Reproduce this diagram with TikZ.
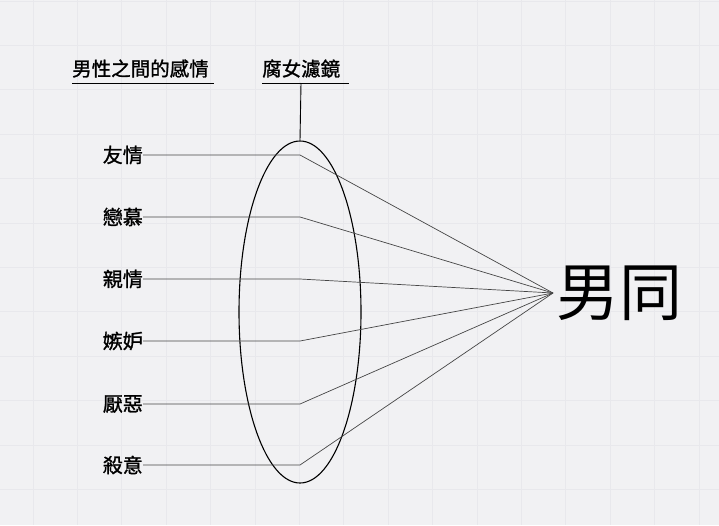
\documentclass[tikz,border=0pt]{standalone}
\usepackage{fontspec}
\newfontfamily\cjk{Noto Sans CJK TC}
\newfontfamily\cjkm[FakeBold=1.2]{Noto Sans CJK TC}
\usepackage{tikz}
\usetikzlibrary{positioning,calc,shapes.geometric}
\definecolor{cBack}{RGB}{241,241,243}
\definecolor{cGrid}{RGB}{232,232,236}
\definecolor{cLine}{RGB}{70,70,70}
\tikzset{
  gridline/.style={draw=cGrid,line width=0.8pt},
  headnode/.style={font=\cjkm\fontsize{19.5}{22}\selectfont,inner sep=0pt,anchor=base west},
  labelnode/.style={font=\cjkm\fontsize{20}{22}\selectfont,inner sep=0pt,anchor=east},
  bignode/.style={font=\cjk\fontsize{63}{68}\selectfont,inner sep=0pt,anchor=west},
  lens/.style={ellipse,draw=black,line width=1.1pt,minimum width=122pt,minimum height=342pt,inner sep=0pt},
  uline/.style={draw=black,line width=0.9pt},
  ray/.style={draw=cLine,line width=0.7pt}
}
\begin{document}
\begin{tikzpicture}[x=1pt,y=-1pt]

  % background and faint grid
  \fill[cBack] (0,0) rectangle (719,525);
  \useasboundingbox (0,0) rectangle (719,525);
  \foreach \gx in {0,...,15}
    \draw[gridline] (33+44.4*\gx,0) -- (33+44.4*\gx,525);
  \foreach \gy in {0,...,11}
    \draw[gridline] (0,1+44.4*\gy) -- (719,1+44.4*\gy);

  % headings
  \node[headnode] (emo) at (72,76) {男性之間的感情};
  \node[headnode] (filt) at (262,76) {腐女濾鏡};
  \draw[uline] (72,83) -- (214,83);
  \draw[uline] (262,83) -- (349,83);
  \coordinate (filttop) at (301,83);

  % the lens
  \node[lens] (lens) at (300,312) {};
  \draw[uline] (filttop) -- (lens.north);

  % where all rays meet
  \coordinate (focus) at (553,293);
  \node[bignode] (result) at (556,293) {男同};

  % feelings
  \foreach \name/\txt/\yy in {yq/友情/155, lm/戀慕/217, qq/親情/279,
                              jd/嫉妒/341, yw/厭惡/404, sy/殺意/465}{
    \node[labelnode] (\name) at (143,\yy) {\txt};
    \coordinate (\name end) at (300,\yy);
    \draw[ray] (\name.east) -- (\name end) -- (focus);
  }

\end{tikzpicture}
\end{document}
